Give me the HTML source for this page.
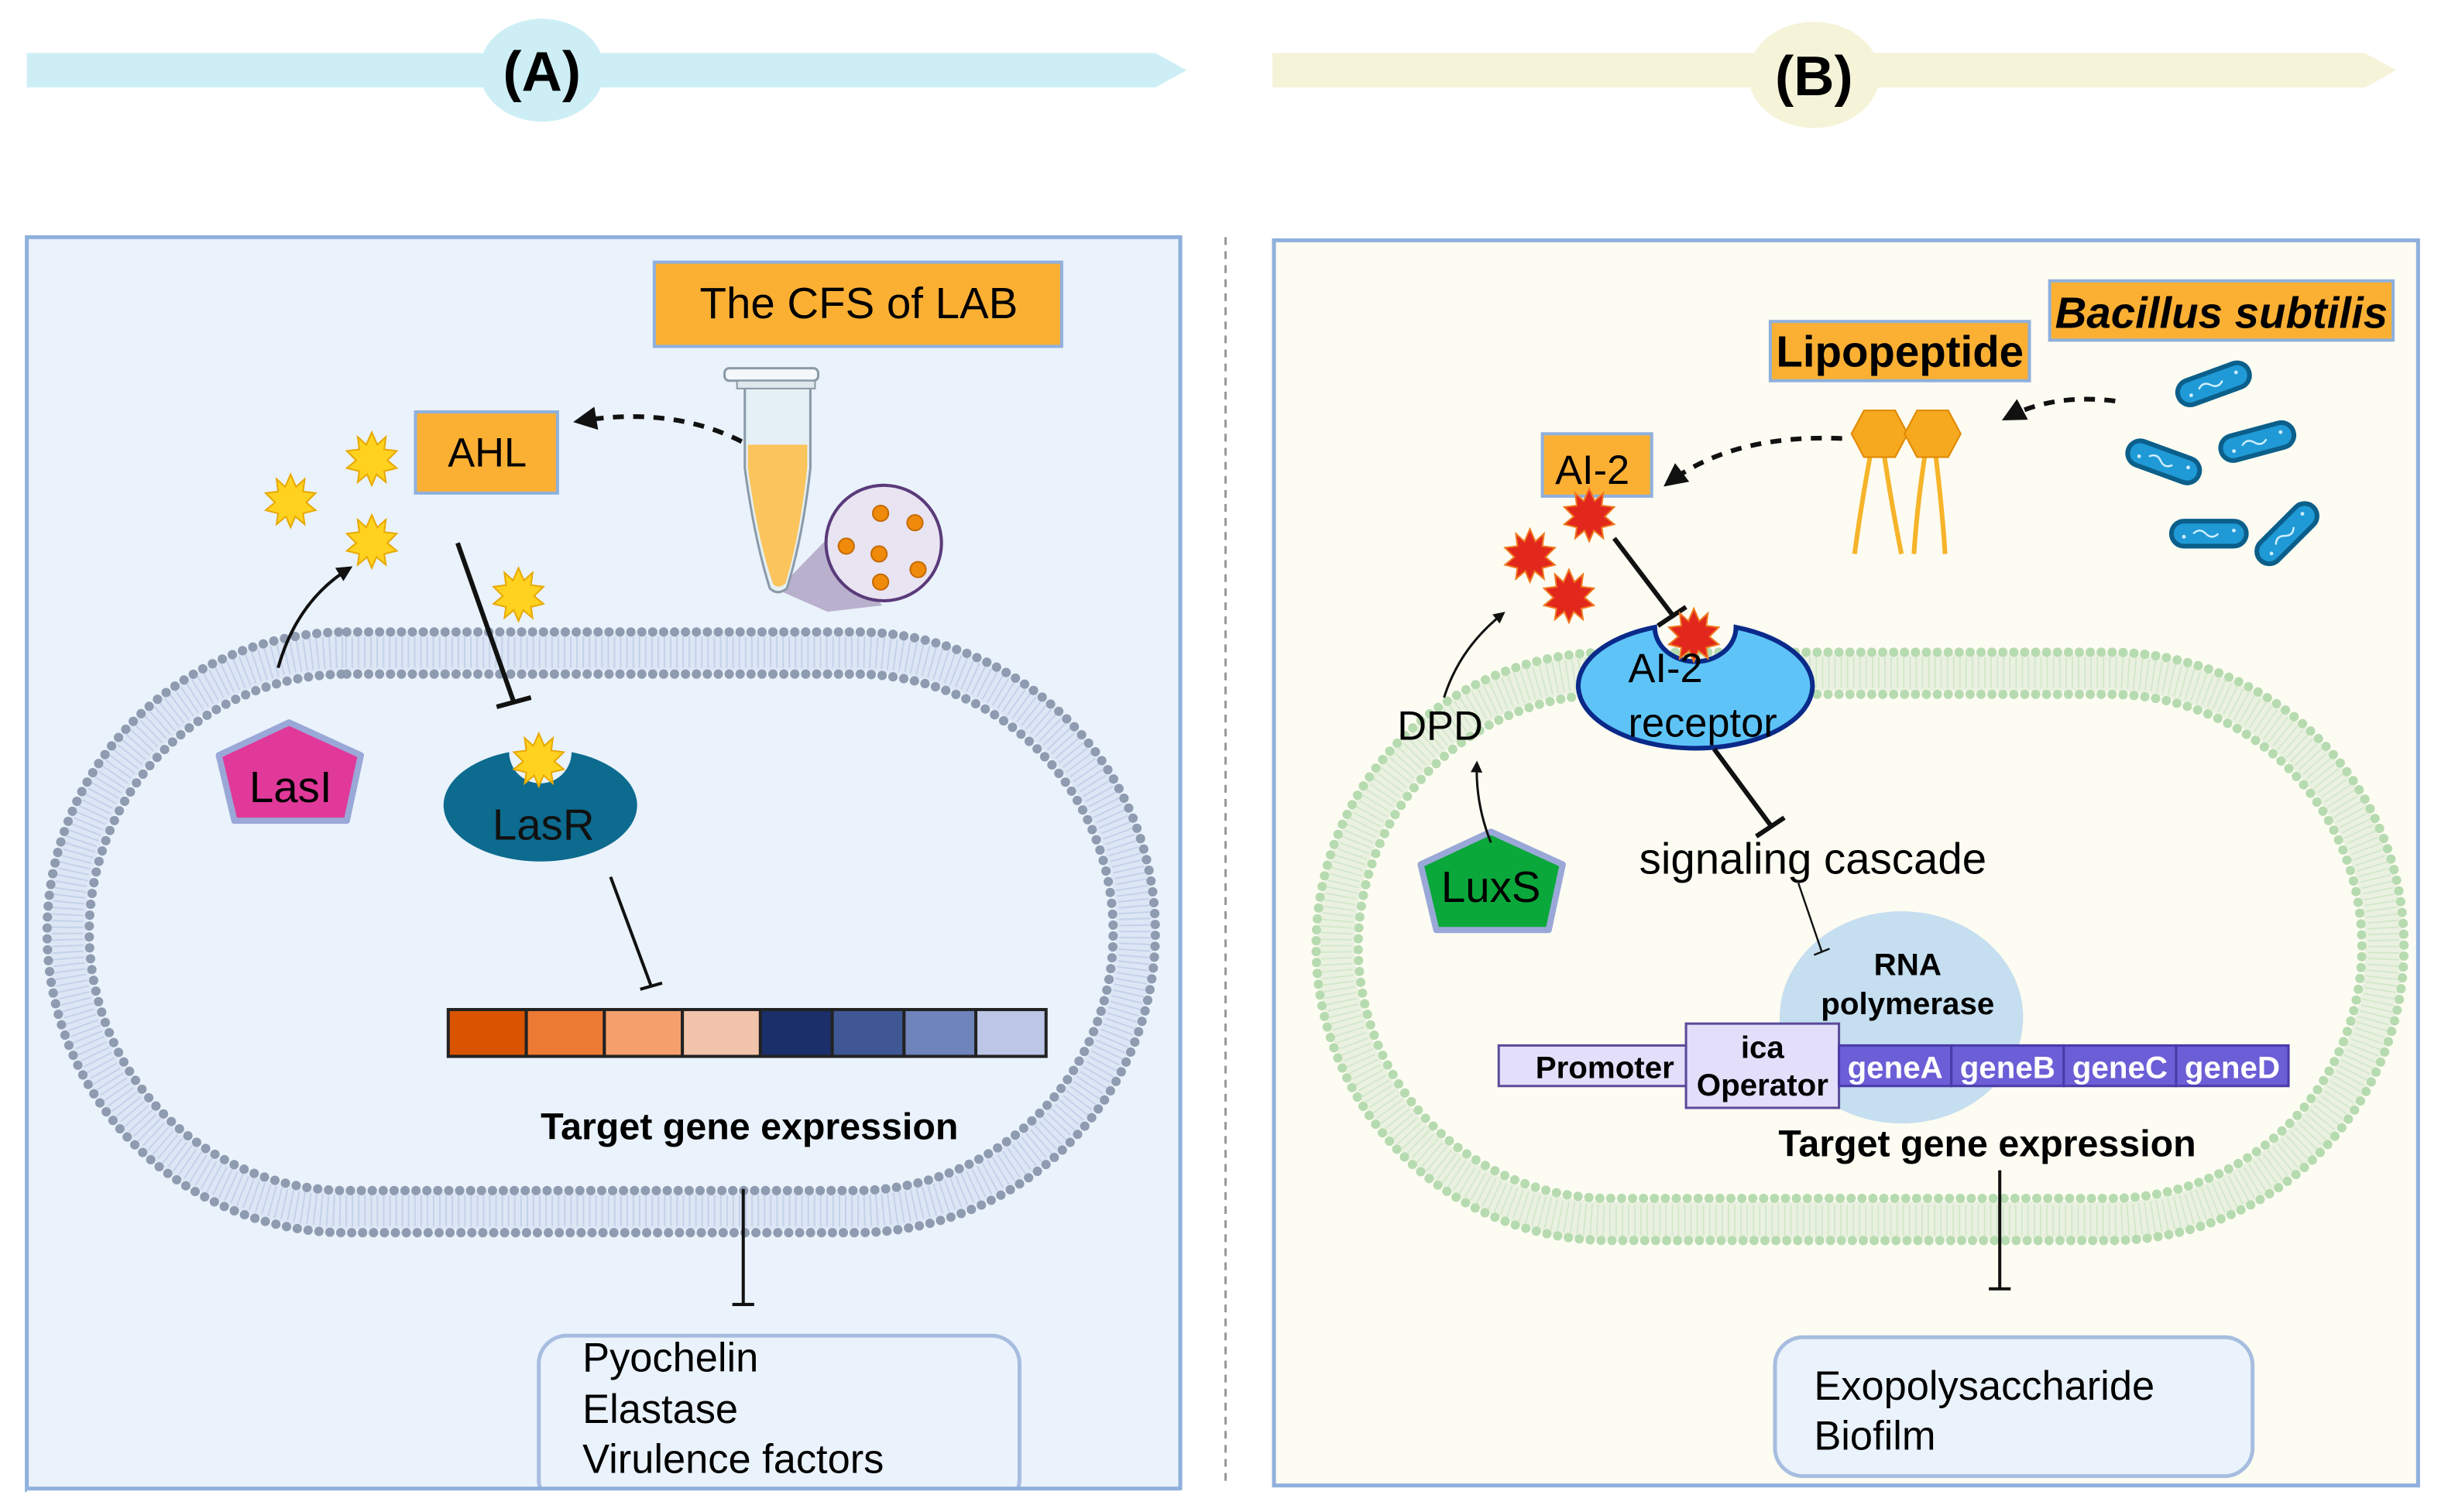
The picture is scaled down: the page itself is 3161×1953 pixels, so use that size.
<!DOCTYPE html>
<html><head><meta charset="utf-8"><style>
html,body{margin:0;padding:0;background:#fff}
svg{display:block}
text{font-family:"Liberation Sans",sans-serif}
</style></head><body>
<svg width="3161" height="1953" viewBox="0 0 1568 969" xmlns="http://www.w3.org/2000/svg">
<defs>
<polygon id="ys" points="0,-17 3.5,-9 9,-14 8,-6 16,-5 10,1 16,6 8,8 9,15 3,10 0,17 -3,10 -9,15 -8,8 -16,6 -10,1 -16,-5 -8,-6 -9,-14 -3.5,-9" fill="#ffd21f" stroke="#e8a800" stroke-width="1"/>
<polygon id="rs" points="0,-17 3.5,-9 9,-14 8,-6 16,-5 10,1 16,6 8,8 9,15 3,10 0,17 -3,10 -9,15 -8,8 -16,6 -10,1 -16,-5 -8,-6 -9,-14 -3.5,-9" fill="#e2281c" stroke="#f07a20" stroke-width="1"/>
<marker id="ah" viewBox="0 0 10 10" refX="8" refY="5" markerWidth="5" markerHeight="5" orient="auto"><path d="M0,0 L10,5 L0,10z" fill="#111"/></marker>
<g id="bac"><rect x="-24" y="-8" width="48" height="16" rx="8" fill="#1f9ad6" stroke="#0b5f8a" stroke-width="3"/><path d="M-10,0 q4,-4 8,0 q4,4 8,0" stroke="#cfeeff" fill="none" stroke-width="1.2"/><circle cx="-16" cy="2" r="1.2" fill="#cfeeff"/><circle cx="16" cy="-2" r="1.2" fill="#cfeeff"/></g>
</defs>
<rect width="1568" height="969" fill="#fff"/>
<!-- headers -->
<polygon points="17,34 740,34 760,45 740,56 17,56" fill="#cdeef5"/>
<ellipse cx="347" cy="45" rx="40" ry="33" fill="#cdeef5"/>
<text x="347" y="58" font-size="36" font-weight="bold" text-anchor="middle">(A)</text>
<polygon points="815,34 1515,34 1535,45 1515,56 815,56" fill="#f5f3d8"/>
<ellipse cx="1162" cy="48" rx="42" ry="34" fill="#f5f3d8"/>
<text x="1162" y="61" font-size="36" font-weight="bold" text-anchor="middle">(B)</text>
<line x1="785" y1="152" x2="785" y2="952" stroke="#999" stroke-width="1.5" stroke-dasharray="5,4"/>
<!-- panel A -->
<rect x="17" y="152" width="739" height="803" fill="#eaf2fb" stroke="#8fb0dc" stroke-width="2.5"/>
<rect x="43" y="418" width="684" height="358" rx="178" fill="none" stroke="#dde6f4" stroke-width="24"/>
<rect x="43" y="418" width="684" height="358" rx="178" fill="none" stroke="#c4d2ea" stroke-width="20" stroke-dasharray="1 3"/>
<rect x="30" y="405" width="710" height="385" rx="192" fill="none" stroke="#8e9bb0" stroke-width="6" stroke-dasharray="0 7" stroke-linecap="round"/>
<rect x="57" y="432" width="656" height="331" rx="165" fill="none" stroke="#8e9bb0" stroke-width="6" stroke-dasharray="0 7" stroke-linecap="round"/>
<rect x="419" y="168" width="261" height="54" fill="#fbb034" stroke="#8fb0dc" stroke-width="2"/>
<text x="550" y="204" font-size="28" text-anchor="middle">The CFS of LAB</text>
<rect x="266" y="264" width="91" height="52" fill="#fbb034" stroke="#8fb0dc" stroke-width="2"/>
<text x="312" y="299" font-size="26" text-anchor="middle">AHL</text>
<!-- tube -->
<polygon points="530,345 498,378 530,392 565,388" fill="#b8b0cc"/>
<path d="M477,248 L519,248 L519,300 Q514,345 504,377 Q498,382 493,377 Q483,345 477,300z" fill="#e4f0f4" stroke="#8a9aa8" stroke-width="1.5"/>
<path d="M479,285 L517,285 L517,300 Q512,345 503,374 Q498,378 495,374 Q485,345 479,300z" fill="#fbc45c"/>
<rect x="464" y="236" width="60" height="8" rx="3" fill="#f4f8fa" stroke="#8a9aa8" stroke-width="1.5"/>
<rect x="472" y="244" width="50" height="5" fill="#dfe8ec" stroke="#8a9aa8" stroke-width="1"/>
<circle cx="566" cy="348" r="37" fill="#e8e4f2" stroke="#5a3a7a" stroke-width="2"/>
<g fill="#f08a0a" stroke="#c56a00" stroke-width="1"><circle cx="564" cy="329" r="5"/><circle cx="586" cy="335" r="5"/><circle cx="542" cy="350" r="5"/><circle cx="563" cy="355" r="5"/><circle cx="588" cy="365" r="5"/><circle cx="564" cy="373" r="5"/></g>
<path d="M475,283 Q430,260 370,270" fill="none" stroke="#111" stroke-width="3" stroke-dasharray="7,6" marker-end="url(#ah)"/>
<use href="#ys" x="238" y="294"/><use href="#ys" x="186" y="321"/><use href="#ys" x="238" y="347"/><use href="#ys" x="332" y="381"/>
<line x1="293" y1="348" x2="329" y2="450" stroke="#111" stroke-width="3"/>
<line x1="318" y1="453" x2="340" y2="447" stroke="#111" stroke-width="3"/>
<path d="M178,428 Q190,385 224,364" fill="none" stroke="#111" stroke-width="2" marker-end="url(#ah)"/>
<polygon points="185,463 231,484 222,526 150,526 140,484" fill="#e0399a" stroke="#9aa8d8" stroke-width="4" stroke-linejoin="round"/>
<text x="186" y="514" font-size="28" text-anchor="middle">LasI</text>
<path d="M326,482 A62,36 0 1 0 366,482 A20,20 0 0 1 326,482z" fill="#0c6b8f"/>
<use href="#ys" x="345" y="487"/>
<text x="348" y="538" font-size="28" fill="#111" text-anchor="middle">LasR</text>
<line x1="391" y1="562" x2="417" y2="632" stroke="#111" stroke-width="2"/>
<line x1="410" y1="634" x2="424" y2="630" stroke="#111" stroke-width="2"/>
<g stroke="#222" stroke-width="2">
<rect x="287" y="647" width="50" height="30" fill="#d95400"/><rect x="337" y="647" width="50" height="30" fill="#ed7a33"/><rect x="387" y="647" width="50" height="30" fill="#f5a06c"/><rect x="437" y="647" width="50" height="30" fill="#f2c4ab"/>
<rect x="487" y="647" width="46" height="30" fill="#1b2f6b"/><rect x="533" y="647" width="46" height="30" fill="#3f5895"/><rect x="579" y="647" width="46" height="30" fill="#6f84bb"/><rect x="625" y="647" width="45" height="30" fill="#bcc6e6"/></g>
<text x="480" y="730" font-size="24" font-weight="bold" text-anchor="middle">Target gene expression</text>
<line x1="476" y1="762" x2="476" y2="836" stroke="#111" stroke-width="2"/>
<line x1="469" y1="836" x2="483" y2="836" stroke="#111" stroke-width="2"/>
<rect x="345" y="856" width="308" height="110" rx="18" fill="#eaf2fb" stroke="#a7bde0" stroke-width="2.5"/>
<rect x="17" y="955" width="745" height="14" fill="#fff"/>
<text x="373" y="879" font-size="26">Pyochelin</text>
<text x="373" y="912" font-size="26">Elastase</text>
<text x="373" y="944" font-size="26">Virulence factors</text>
<line x1="17" y1="954" x2="756" y2="954" stroke="#8fb0dc" stroke-width="2.5"/>
<!-- panel B -->
<rect x="816" y="154" width="733" height="798" fill="#fdfcf2" stroke="#8fb0dc" stroke-width="2.5"/>
<rect x="856" y="431" width="671" height="351" rx="175" fill="none" stroke="#eaf1e0" stroke-width="24"/>
<rect x="856" y="431" width="671" height="351" rx="175" fill="none" stroke="#d4e8cc" stroke-width="20" stroke-dasharray="1 3"/>
<rect x="843" y="418" width="697" height="377" rx="188" fill="none" stroke="#b7dbb0" stroke-width="6" stroke-dasharray="0 7" stroke-linecap="round"/>
<rect x="870" y="445" width="643" height="323" rx="161" fill="none" stroke="#b7dbb0" stroke-width="6" stroke-dasharray="0 7" stroke-linecap="round"/>
<rect x="1313" y="180" width="220" height="38" fill="#fbb034" stroke="#8fb0dc" stroke-width="2"/>
<text x="1423" y="210" font-size="28" font-weight="bold" font-style="italic" text-anchor="middle">Bacillus subtilis</text>
<rect x="1134" y="206" width="166" height="38" fill="#fbb034" stroke="#8fb0dc" stroke-width="2"/>
<text x="1217" y="235" font-size="28" font-weight="bold" text-anchor="middle">Lipopeptide</text>
<rect x="988" y="278" width="70" height="40" fill="#fbb034" stroke="#8fb0dc" stroke-width="2"/>
<text x="1020" y="310" font-size="26" text-anchor="middle">AI-2</text>
<path d="M1355,257 Q1315,252 1285,268" fill="none" stroke="#111" stroke-width="3" stroke-dasharray="7,6" marker-end="url(#ah)"/>
<path d="M1180,281 Q1110,278 1068,310" fill="none" stroke="#111" stroke-width="3" stroke-dasharray="7,6" marker-end="url(#ah)"/>
<g fill="none" stroke="#f6b42a" stroke-width="3"><path d="M1198,292 Q1192,325 1188,355"/><path d="M1207,292 Q1212,325 1218,355"/><path d="M1233,292 Q1228,325 1226,355"/><path d="M1240,292 Q1244,325 1246,355"/></g>
<polygon points="1194,263 1214,263 1222,278 1214,293 1194,293 1186,278" fill="#f6a81e" stroke="#e08800"/>
<polygon points="1228,263 1248,263 1256,278 1248,293 1228,293 1220,278" fill="#f6a81e" stroke="#e08800"/>
<use href="#bac" transform="translate(1418,246) rotate(-20)"/>
<use href="#bac" transform="translate(1386,296) rotate(20)"/>
<use href="#bac" transform="translate(1446,283) rotate(-15)"/>
<use href="#bac" transform="translate(1415,342)"/>
<use href="#bac" transform="translate(1465,342) rotate(-45)"/>
<use href="#rs" x="1018" y="330"/><use href="#rs" x="980" y="356"/><use href="#rs" x="1005" y="382"/>
<line x1="1034" y1="345" x2="1072" y2="395" stroke="#111" stroke-width="3"/>
<line x1="1062" y1="401" x2="1080" y2="389" stroke="#111" stroke-width="3"/>
<path d="M1060,402 A75,40 0 1 0 1112,402 A26,22 0 0 1 1060,402z" fill="#5ec4f8" stroke="#0a2a8a" stroke-width="3"/>
<use href="#rs" x="1085" y="407"/>
<text x="1043" y="437" font-size="26">AI-2</text>
<text x="1043" y="472" font-size="26">receptor</text>
<text x="895" y="474" font-size="26">DPD</text>
<path d="M925,447 Q935,415 963,393" fill="none" stroke="#111" stroke-width="1.5" marker-end="url(#ah)"/>
<polygon points="955,533 1001,554 992,596 920,596 910,554" fill="#0aa83a" stroke="#9aa8d8" stroke-width="4" stroke-linejoin="round"/>
<text x="955" y="578" font-size="28" text-anchor="middle">LuxS</text>
<path d="M955,540 Q945,515 946,489" fill="none" stroke="#111" stroke-width="1.5" marker-end="url(#ah)"/>
<line x1="1098" y1="480" x2="1135" y2="530" stroke="#111" stroke-width="3"/>
<line x1="1125" y1="536" x2="1143" y2="524" stroke="#111" stroke-width="3"/>
<text x="1050" y="560" font-size="28">signaling cascade</text>
<ellipse cx="1218" cy="652" rx="78" ry="68" fill="#c5def0"/>
<line x1="1152" y1="566" x2="1167" y2="610" stroke="#111" stroke-width="1.2"/>
<line x1="1162" y1="612" x2="1172" y2="608" stroke="#111" stroke-width="1.2"/>
<text x="1222" y="625" font-size="20" font-weight="bold" text-anchor="middle">RNA</text>
<text x="1222" y="650" font-size="20" font-weight="bold" text-anchor="middle">polymerase</text>
<rect x="960" y="670" width="120" height="26" fill="#e3defa" stroke="#5a4a9a" stroke-width="1.5"/>
<text x="1028" y="691" font-size="20" font-weight="bold" text-anchor="middle">Promoter</text>
<rect x="1080" y="656" width="98" height="54" fill="#e3defa" stroke="#5a4a9a" stroke-width="1.5"/>
<text x="1129" y="678" font-size="20" font-weight="bold" text-anchor="middle">ica</text>
<text x="1129" y="702" font-size="20" font-weight="bold" text-anchor="middle">Operator</text>
<g fill="#6b5ed6" stroke="#4a3aa8" stroke-width="1.5"><rect x="1178" y="670" width="72" height="26"/><rect x="1250" y="670" width="72" height="26"/><rect x="1322" y="670" width="72" height="26"/><rect x="1394" y="670" width="72" height="26"/></g>
<g fill="#fff" font-size="20" font-weight="bold" text-anchor="middle"><text x="1214" y="691">geneA</text><text x="1286" y="691">geneB</text><text x="1358" y="691">geneC</text><text x="1430" y="691">geneD</text></g>
<text x="1273" y="741" font-size="24" font-weight="bold" text-anchor="middle">Target gene expression</text>
<line x1="1281" y1="750" x2="1281" y2="826" stroke="#111" stroke-width="2"/>
<line x1="1274" y1="826" x2="1288" y2="826" stroke="#111" stroke-width="2"/>
<rect x="1137" y="857" width="306" height="89" rx="18" fill="#eaf2fb" stroke="#a7bde0" stroke-width="2.5"/>
<text x="1162" y="897" font-size="26">Exopolysaccharide</text>
<text x="1162" y="929" font-size="26">Biofilm</text>
</svg>
</body></html>
